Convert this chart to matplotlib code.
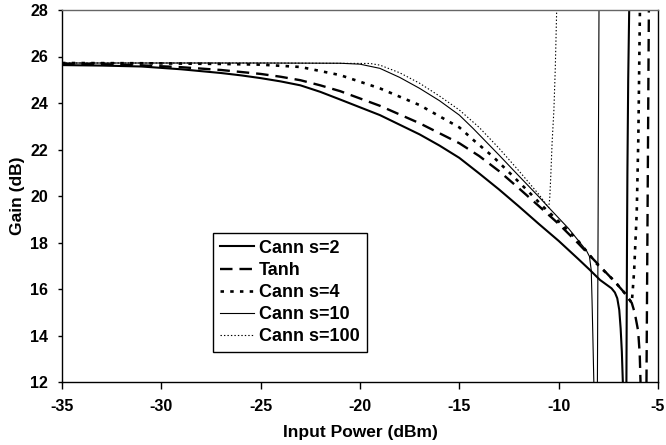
import numpy as np
import matplotlib
matplotlib.use("Agg")
import matplotlib.pyplot as plt

# Gain (dB) vs input power (dBm)
# Cann s=2 (thick solid): main branch + branch between zero and pole
s2_x = [-35, -33, -31, -29, -27, -26, -25, -24, -23, -22, -21, -19, -17, -16, -15, -14,
        -13, -12, -11, -10, -9, -8.43, -7.92, -7.34, -7.17, -7.05, -6.95, -6.88, -6.82, -6.77]
s2_y = [25.63, 25.61, 25.57, 25.45, 25.29, 25.19, 25.07, 24.93, 24.76, 24.48, 24.15, 23.48,
        22.65, 22.17, 21.64, 20.97, 20.28, 19.55, 18.8, 18.07, 17.28, 16.82, 16.39, 16.03,
        15.85, 15.6, 15.1, 14.3, 13.3, 12.0]
s2_x2 = [-6.59, -6.56, -6.54, -6.50, -6.45]
s2_y2 = [12.0, 18.0, 21.0, 25.0, 28.0]

# Tanh (thick dashed)
tanh_x = [-35, -33, -31, -29, -27, -25, -24, -23, -22, -21, -19, -17, -15, -14, -13, -12,
          -11, -10, -9, -8, -7.17, -6.7, -6.32, -6.17, -6.0, -5.92, -5.88]
tanh_y = [25.68, 25.67, 25.62, 25.54, 25.42, 25.25, 25.13, 24.98, 24.76, 24.51, 23.88,
          23.13, 22.27, 21.72, 21.07, 20.33, 19.57, 18.8, 17.95, 17.05, 16.31, 15.85, 15.4,
          14.97, 14.2, 13.2, 12.0]
tanh_x2 = [-5.58, -5.52, -5.46]
tanh_y2 = [12.0, 20.0, 28.0]

# Cann s=4 (thick dotted)
s4_x = [-35, -31, -27, -25, -23, -21, -19, -17, -15, -14.2, -13.3, -12.45, -11.6, -10.78,
        -10.36, -9.5, -9, -8.1, -7.2, -6.7, -6.4, -6.32, -6.25, -6.2, -6.07, -5.99, -5.91]
s4_y = [25.72, 25.71, 25.68, 25.65, 25.55, 25.20, 24.63, 23.91, 22.95, 22.34, 21.69, 20.98,
        20.26, 19.54, 19.2, 18.5, 18.05, 17.1, 16.35, 15.85, 15.5, 15.4, 16.2, 16.8, 19.3,
        22.5, 28.0]

# Cann s=10 (thin solid)
s10_x = [-35, -25, -21, -20, -19, -18, -17, -16, -15, -14.3, -13, -12, -11, -10.44,
         -9.5, -8.6, -8.45, -8.36, -8.32, -8.28, -8.23]
s10_y = [25.72, 25.72, 25.71, 25.67, 25.49, 25.1, 24.63, 24.1, 23.48, 22.9, 21.76, 20.86,
         19.97, 19.45, 18.6, 17.65, 17.4, 16.8, 15.5, 14.0, 12.0]
s10_x2 = [-8.05, -8.01, -7.97]
s10_y2 = [12.0, 20.0, 28.0]

# Cann s=100 (thin dotted)
s100_x = [-35, -25, -19.5, -19, -18, -17, -16, -15, -14, -13, -12, -11, -10.5, -10.45,
          -10.4, -10.33, -10.24, -10.17, -10.1]
s100_y = [25.72, 25.72, 25.70, 25.63, 25.3, 24.85, 24.3, 23.7, 22.95, 22.05, 21.08, 20.07,
          19.5, 19.9, 20.8, 22.3, 23.7, 25.5, 28.0]

x_ticks = [-35, -30, -25, -20, -15, -10, -5]
y_ticks = [12, 14, 16, 18, 20, 22, 24, 26, 28]

plt.rcParams['font.family'] = ['Liberation Sans', 'DejaVu Sans']
plt.rcParams['font.weight'] = 'bold'
plt.rcParams['axes.unicode_minus'] = False
plt.rcParams['lines.scale_dashes'] = False

fig = plt.figure(figsize=(6.66, 4.45), dpi=100)
ax = fig.add_axes([62 / 666, 1 - 382 / 445, 596 / 666, 372 / 445])

ax.plot(s2_x, s2_y, color='black', lw=1.5, label='Cann s=2')
ax.plot(s2_x2, s2_y2, color='black', lw=1.5)

ax.plot(tanh_x, tanh_y, color='black', lw=1.7, dashes=[9, 5], label='Tanh')
ax.plot(tanh_x2, tanh_y2, color='black', lw=1.7, dashes=[9, 5])

ax.plot(s4_x, s4_y, color='black', lw=1.9, dashes=[2.5, 4.5], label='Cann s=4')

ax.plot(s10_x, s10_y, color='black', lw=0.8, label='Cann s=10')
ax.plot(s10_x2, s10_y2, color='black', lw=0.8)

ax.plot(s100_x, s100_y, color='black', lw=0.8, dashes=[1, 1.5], label='Cann s=100')

ax.set_xlim(-35, -5)
ax.set_ylim(12, 28)
ax.set_xticks(x_ticks)
ax.set_yticks(y_ticks)
ax.tick_params(axis='x', direction='out', length=5, width=1, pad=7, labelsize=11.5)
ax.tick_params(axis='y', direction='out', length=3, width=1, pad=7, labelsize=11.5)
for lbl in ax.get_xticklabels() + ax.get_yticklabels():
    lbl.set_fontweight('bold')
for sp in ax.spines.values():
    sp.set_linewidth(1)
    sp.set_color('black')
ax.spines['top'].set_color('#666666')

ax.set_xlabel('Input Power (dBm)', fontsize=12.5, fontweight='bold', labelpad=8)
ax.set_ylabel('Gain (dB)', fontsize=12.5, fontweight='bold', labelpad=4)

leg = ax.legend(loc='lower left', bbox_to_anchor=(0.253, 0.08), fontsize=13,
                frameon=True, fancybox=False, edgecolor='black', framealpha=1,
                handlelength=1.9, handletextpad=0.25, borderpad=0.4, labelspacing=0.28,
                borderaxespad=0)
leg.get_frame().set_linewidth(1)
for t in leg.get_texts():
    t.set_fontweight('bold')

fig.savefig('out.png', dpi=100)
